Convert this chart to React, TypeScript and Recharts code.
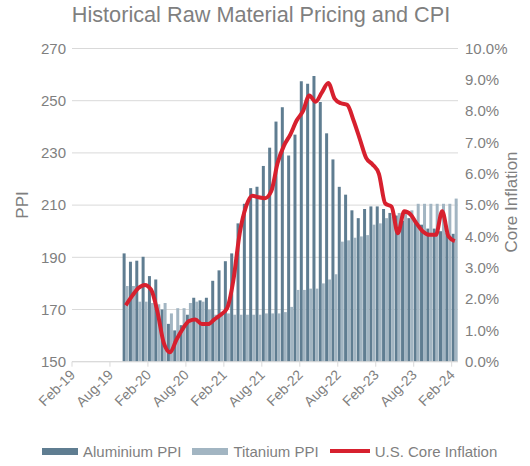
import { ComposedChart, Bar, Line, XAxis, YAxis, CartesianGrid } from 'recharts';

const months = [
  'Feb-19', 'Mar-19', 'Apr-19', 'May-19', 'Jun-19', 'Jul-19', 'Aug-19', 'Sep-19', 'Oct-19', 'Nov-19', 'Dec-19',
  'Jan-20', 'Feb-20', 'Mar-20', 'Apr-20', 'May-20', 'Jun-20', 'Jul-20', 'Aug-20', 'Sep-20', 'Oct-20', 'Nov-20', 'Dec-20',
  'Jan-21', 'Feb-21', 'Mar-21', 'Apr-21', 'May-21', 'Jun-21', 'Jul-21', 'Aug-21', 'Sep-21', 'Oct-21', 'Nov-21', 'Dec-21',
  'Jan-22', 'Feb-22', 'Mar-22', 'Apr-22', 'May-22', 'Jun-22', 'Jul-22', 'Aug-22', 'Sep-22', 'Oct-22', 'Nov-22', 'Dec-22',
  'Jan-23', 'Feb-23', 'Mar-23', 'Apr-23', 'May-23', 'Jun-23', 'Jul-23', 'Aug-23', 'Sep-23', 'Oct-23', 'Nov-23', 'Dec-23',
  'Jan-24', 'Feb-24',
];

const aluminiumPPI = [
  null, null, null, null, null, null, null, null,
  191.5, 188.3, 188.7, 190.2, 182.8, 181.5, 170, 164.5, 162, 164, 168, 174.5, 173.5, 174.5,
  181, 185, 188.5, 191.5, 203, 210.5, 216.5, 217, 225, 232, 242, 247.5,
  229, 237, 257.5, 256.5, 259.5, 249.5, 237.5, 227.5, 217, 214, 208, 205,
  208.5, 209.5, 209.5, 208.5, 207, 206, 204, 205, 204, 202.5, 201, 201, 200, 199.5, 199,
];

const titaniumPPI = [
  null, null, null, null, null, null, null, null,
  179, 179, 173, 173, 172.5, 172, 172.5, 168.5, 170.5, 170.5, 172.5, 173, 173, 170,
  168, 168, 168.5, 168, 168, 168, 168, 168, 168.5, 168.5, 168.5, 169,
  171, 177.5, 177.5, 178, 178, 180, 181.5, 183.5, 196, 196.5, 197.5, 198,
  198.5, 202.5, 203, 205, 205.5, 207, 207.5, 208, 210.5, 210.5, 210.5, 210.5, 210.5, 210.5, 212.5,
];

const coreInflation = [
  null, null, null, null, null, null, null, null,
  1.8, 2.1, 2.35, 2.45, 2.3, 1.6, 0.6, 0.3, 0.7, 1.05, 1.3, 1.35, 1.2, 1.2,
  1.35, 1.5, 1.7, 2.6, 4.1, 4.95, 5.3, 5.25, 5.22, 5.45, 6.35, 6.9,
  7.25, 7.7, 8.0, 8.5, 8.3, 8.6, 8.9, 8.4, 8.25, 8.2, 7.7, 7.1,
  6.5, 6.3, 6.0, 5.05, 4.95, 4.1, 4.8, 4.7, 4.4, 4.15, 4.05, 4.05, 4.8, 4.0, 3.85,
];

const ppiTicks = [150, 170, 190, 210, 230, 250, 270];
const inflationTicks = [0, 1, 2, 3, 4, 5, 6, 7, 8, 9, 10];

const data = months.map((month, i) => ({
  month,
  aluminium: aluminiumPPI[i],
  titanium: titaniumPPI[i],
  inflation: coreInflation[i],
}));

const FONT = '"Liberation Sans", Arial, sans-serif';
const GREY = '#7f7f7f';
const DARK = '#5f7d91';
const LIGHT = '#a2b5c2';
const RED = '#d7202e';

const CHART_W = 530;
const CHART_H = 466;
const LEFT_W = 72;
const RIGHT_W = 72;
const BAND_HALF = (CHART_W - LEFT_W - RIGHT_W) / months.length / 2;

const MonthTick = (props: any) => {
  const { x, y, payload } = props;
  const edge = x - BAND_HALF;
  const tx = edge + 4;
  const ty = y + 14;
  return (
    <g>
      <line x1={edge} y1={y} x2={edge} y2={y + 5} stroke="#d9d9d9" />
      <text x={tx} y={ty} textAnchor="end" fontSize={14} fill={GREY} fontFamily={FONT}
        transform={`rotate(-45, ${tx}, ${ty})`}>
        {payload.value}
      </text>
    </g>
  );
};

const AxisTitle = (props: any) => {
  const { titleX, titleY, title } = props;
  return (
    <text x={titleX} y={titleY} textAnchor="middle" dominantBaseline="central" fontSize={17}
      fill={GREY} fontFamily={FONT} transform={`rotate(-90, ${titleX}, ${titleY})`}>
      {title}
    </text>
  );
};

const Swatch = ({ color, w, h }: { color: string; w: number; h: number }) => (
  <span style={{ display: 'inline-block', width: w, height: h, background: color, marginRight: 5 }} />
);

const App = () => {
  return (
    <div style={{ position: 'absolute', left: 0, top: 0, width: CHART_W, height: CHART_H, fontFamily: FONT, background: '#fff' }}>
      <div style={{ position: 'absolute', left: 0, top: 0, width: 522, height: 30, lineHeight: '30px', textAlign: 'center', fontSize: 21.7, color: GREY }}>
        Historical Raw Material Pricing and CPI
      </div>
      <ComposedChart width={CHART_W} height={CHART_H} data={data}
        margin={{ top: 48.5, right: 0, left: 0, bottom: 44.3 }} barGap={0}>
        <CartesianGrid yAxisId="ppi" vertical={false} stroke="#d9d9d9" />
        <XAxis dataKey="month" interval={5} tick={<MonthTick />} tickLine={false} tickSize={0} tickMargin={0}
          axisLine={{ stroke: '#d9d9d9' }} height={60} />
        <YAxis yAxisId="ppi" orientation="left" domain={[150, 270]} ticks={ppiTicks} width={LEFT_W}
          axisLine={false} tickLine={false} tickSize={4} tickMargin={2}
          tick={{ fill: GREY, fontSize: 15, fontFamily: FONT }}
          label={<AxisTitle titleX={22} titleY={205} title="PPI" />} />
        <YAxis yAxisId="cpi" orientation="right" domain={[0, 10]} ticks={inflationTicks} width={RIGHT_W}
          axisLine={false} tickLine={false} tickSize={5} tickMargin={2}
          tickFormatter={(v: number) => `${v.toFixed(1)}%`}
          tick={{ fill: GREY, fontSize: 15, fontFamily: FONT }}
          label={<AxisTitle titleX={511} titleY={202} title="Core Inflation" />} />
        <Bar yAxisId="ppi" dataKey="aluminium" name="Aluminium PPI" fill={DARK} barSize={3} isAnimationActive={false} />
        <Bar yAxisId="ppi" dataKey="titanium" name="Titanium PPI" fill={LIGHT} barSize={3} isAnimationActive={false} />
        <Line yAxisId="cpi" dataKey="inflation" name="U.S. Core Inflation" type="monotone" stroke={RED}
          strokeWidth={4} dot={false} isAnimationActive={false} />
      </ComposedChart>
      <div style={{ position: 'absolute', left: 42, top: 442, height: 18, display: 'flex', alignItems: 'center', fontSize: 15, color: GREY, whiteSpace: 'nowrap' }}>
        <Swatch color={DARK} w={36} h={7} />
        <span style={{ marginRight: 11 }}>Aluminium PPI</span>
        <Swatch color={LIGHT} w={36} h={7} />
        <span style={{ marginRight: 11 }}>Titanium PPI</span>
        <Swatch color={RED} w={40} h={4} />
        <span>U.S. Core Inflation</span>
      </div>
    </div>
  );
};

export default App;
